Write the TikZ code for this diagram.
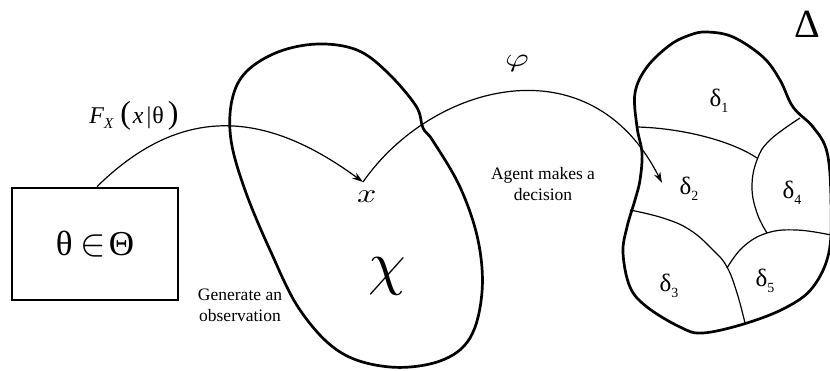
\documentclass[tikz,border=0pt]{standalone}
\usepackage{fontspec}
\usepackage{unicode-math}
\setmainfont{Liberation Serif}
\usetikzlibrary{arrows.meta}
\newcommand{\deltasub}[1]{\raisebox{-6pt}{\fontsize{14}{14}\selectfont #1}}
\begin{document}
\begin{tikzpicture}[x=1pt,y=-1pt,
  thickline/.style={line width=2.7pt, line join=round},
  thinline/.style={line width=1.2pt},
  arr/.style={line width=1.2pt, -{Stealth[length=11pt,width=7pt]}},
  lbl/.style={font=\fontsize{17.5}{21}\selectfont, align=center, inner sep=0pt},
  dlbl/.style={font=\fontsize{25}{25}\selectfont, inner sep=0pt}]
\useasboundingbox (0,0) rectangle (830,370);

% Theta box
\node[draw, line width=2.7pt, minimum width=166pt, minimum height=112pt, inner sep=0pt,
      font=\fontsize{35}{35}\selectfont] (box) at (95,244)
      {θ\hspace{8pt}{\fontsize{38}{38}\selectfont$\in$}\hspace{3pt}Θ};

% chi blob
\draw[thickline] plot[smooth cycle, tension=0.6] coordinates {
  (318,44) (357,50) (387,72) (416,106) (423,128) (433,141) (460,187) (478,240)
  (482,292) (470,338) (440,361) (390,367) (340,352) (300,310) (270,250)
  (245,190) (231,140) (232,100) (246,72) (278,52)};

% Delta blob
\draw[thickline] plot[smooth cycle, tension=0.6] coordinates {
  (707,32) (733,37) (763,57) (780,80) (793,107) (813,127) (827,152) (831,200)
  (829,252) (813,287) (787,307) (747,323) (703,333) (680,327) (647,307)
  (630,287) (623,253) (627,227) (635,200) (640,180) (642,153) (637,127)
  (635,93) (647,67) (670,45) (690,35)};

% region boundaries
\draw[thinline] (637,127) .. controls (680,128) and (730,140) .. (757,158);
\draw[thinline] plot[smooth, tension=0.7] coordinates {(800,118) (770,140) (757,160) (752,187) (757,213) (767,233)};
\draw[thinline] plot[smooth, tension=0.7] coordinates {(831,235) (797,230) (767,233) (743,247) (727,268)};
\draw[thinline] plot[smooth, tension=0.7] coordinates {(630,210) (663,218) (690,230) (713,250) (727,267) (737,293) (745,323)};

% labels
\node[inner sep=0pt, font=\fontsize{24}{24}\selectfont] (F) at (134,116)
  {\itshape F\raisebox{-5pt}{\fontsize{15}{15}\selectfont X}\hspace{7pt}{\fontsize{32}{32}\selectfont\upshape(}\hspace{2pt}x\hspace{3pt}{\upshape|}\hspace{1pt}{\upshape θ}\hspace{4pt}{\fontsize{32}{32}\selectfont\upshape)}};
\node[inner sep=0pt, font=\fontsize{26}{26}\selectfont] (phi) at (517,64) {\scalebox{1.4}[1]{$\varphi$}};
\node[lbl] (agent) at (543,184) {Agent makes a\\decision};
\node[lbl] (gen) at (240,305) {Generate an\\observation};
\node[inner sep=0pt, font=\fontsize{27}{27}\selectfont] (xl) at (367,197) {\scalebox{1.25}[1]{$x$}};
\node[inner sep=0pt, font=\fontsize{60}{60}\selectfont] (chi) at (387,276) {$\chi$};
\node[inner sep=0pt, font=\fontsize{40}{40}\selectfont] (Delta) at (807,24) {Δ};
\node[dlbl] (d1) at (719,101) {δ\deltasub{1}};
\node[dlbl] (d2) at (689,189) {δ\deltasub{2}};
\node[dlbl] (d3) at (669,286) {δ\deltasub{3}};
\node[dlbl] (d4) at (792,193) {δ\deltasub{4}};
\node[dlbl] (d5) at (765,281) {δ\deltasub{5}};

% arrows
\coordinate (xtip) at (363,182);
\coordinate (dtip) at (662,183);
\draw[arr] (box.north -| 97,0) .. controls (187,98) and (273,116) .. (xtip);
\draw[arr] (xtip) .. controls (431,84) and (590,40) .. (dtip);
\end{tikzpicture}
\end{document}
